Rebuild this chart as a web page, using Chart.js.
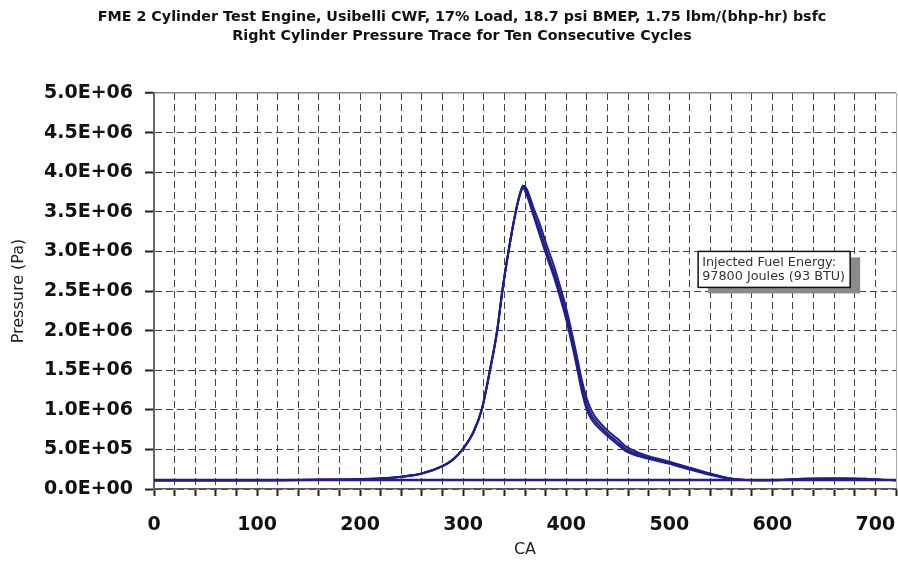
<!DOCTYPE html>
<html>
<head>
<meta charset="utf-8">
<script src="https://cdn.jsdelivr.net/npm/chart.js@4.4.1/dist/chart.umd.min.js"></script>
<style>
  html, body { margin: 0; padding: 0; background: #fff; }
</style>
</head>
<body>
<canvas id="pressureChart" width="898" height="566"></canvas>
<script>
// values
const chartTitle = [
    'FME 2 Cylinder Test Engine, Usibelli CWF, 17% Load, 18.7 psi BMEP, 1.75 lbm/(bhp-hr) bsfc',
    'Right Cylinder Pressure Trace for Ten Consecutive Cycles'
];
const noteLines = ['Injected Fuel Energy:', '97800 Joules (93 BTU)'];
const noteCA = 528;      // where the note box sits (data units)
const notePa = 3.0e6;

const caTickLabels = [0, 100, 200, 300, 400, 500, 600, 700];
const pressureTickLabels = ['0.0E+00', '5.0E+05', '1.0E+06', '1.5E+06', '2.0E+06', '2.5E+06',
    '3.0E+06', '3.5E+06', '4.0E+06', '4.5E+06', '5.0E+06'];

// crank angle (deg)
const crankAngle = [0, 40, 80, 120, 160, 200, 220, 240, 260, 280, 290, 300, 310, 318, 326, 333,
    338, 344, 351, 356, 358, 362, 368, 375, 381, 388, 394, 400, 410, 415, 420, 425, 430, 440, 450,
    457, 470, 480, 500, 520, 540, 556, 570, 590, 610, 630, 650, 670, 690, 705, 720];

// pressure (Pa), middle / upper / lower edge of the ten-cycle band
const pressureMid = [1.10e5, 1.10e5, 1.10e5, 1.11e5, 1.16e5, 1.24e5, 1.33e5, 1.55e5, 1.95e5, 2.9e5,
    3.7e5, 5.1e5, 7.2e5, 1.0e6, 1.5e6, 2.0e6, 2.5e6, 3.0e6, 3.5e6, 3.76e6, 3.82e6, 3.74e6, 3.5e6,
    3.24e6, 3.0e6, 2.74e6, 2.48e6, 2.2e6, 1.62e6, 1.3e6, 1.06e6, 9.2e5, 8.3e5, 7.0e5, 5.9e5,
    5.1e5, 4.35e5, 3.95e5, 3.3e5, 2.55e5, 1.85e5, 1.38e5, 1.17e5, 1.12e5, 1.14e5, 1.28e5, 1.3e5,
    1.3e5, 1.27e5, 1.17e5, 1.12e5];
const pressureHigh = [1.10e5, 1.10e5, 1.10e5, 1.11e5, 1.16e5, 1.24e5, 1.33e5, 1.55e5, 1.95e5, 2.9e5,
    3.7e5, 5.1e5, 7.2e5, 1.0e6, 1.5e6, 2.0e6, 2.5e6, 3.0e6, 3.5e6, 3.77e6, 3.83e6, 3.78e6, 3.56e6,
    3.32e6, 3.08e6, 2.82e6, 2.56e6, 2.28e6, 1.70e6, 1.38e6, 1.14e6, 9.8e5, 8.8e5, 7.4e5, 6.3e5,
    5.45e5, 4.6e5, 4.15e5, 3.45e5, 2.7e5, 1.95e5, 1.42e5, 1.18e5, 1.12e5, 1.15e5, 1.30e5, 1.32e5,
    1.32e5, 1.29e5, 1.18e5, 1.12e5];
const pressureLow = [1.10e5, 1.10e5, 1.10e5, 1.11e5, 1.16e5, 1.24e5, 1.33e5, 1.55e5, 1.95e5, 2.9e5,
    3.7e5, 5.1e5, 7.2e5, 1.0e6, 1.5e6, 2.0e6, 2.5e6, 3.0e6, 3.5e6, 3.75e6, 3.80e6, 3.70e6, 3.46e6,
    3.18e6, 2.94e6, 2.68e6, 2.42e6, 2.14e6, 1.56e6, 1.24e6, 1.0e6, 8.7e5, 7.9e5, 6.7e5, 5.6e5,
    4.85e5, 4.15e5, 3.8e5, 3.18e5, 2.45e5, 1.78e5, 1.34e5, 1.16e5, 1.12e5, 1.13e5, 1.26e5, 1.28e5,
    1.28e5, 1.25e5, 1.16e5, 1.12e5];

const baselineAngle = [0, 720];
const baselinePressure = [1.13e5, 1.13e5];

const traceColor = '#1e1e8c';

function toPoints(xs, ys) {
    return xs.map((a, i) => ({ x: a, y: ys[i] }));
}

function traceSet(data, width) {
    return {
        data: data,
        borderColor: traceColor,
        borderWidth: width,
        pointRadius: 0,
        fill: false,
        cubicInterpolationMode: 'monotone'
    };
}

// title and the fuel energy note
const extrasPlugin = {
    id: 'extras',
    afterDraw(chart) {
        const { ctx, scales: { x, y } } = chart;
        ctx.save();
        ctx.fillStyle = '#111';
        ctx.textAlign = 'center';
        ctx.textBaseline = 'middle';
        ctx.font = 'bold 14.3px "DejaVu Sans", sans-serif';
        ctx.fillText(chartTitle[0], 462, 17);
        ctx.fillText(chartTitle[1], 462, 36);

        const left = x.getPixelForValue(noteCA);
        const top = y.getPixelForValue(notePa);
        const w = 152, h = 36;
        ctx.fillStyle = '#8a8a8a';
        ctx.fillRect(left + 10, top + 6, w, h);
        ctx.fillStyle = '#fff';
        ctx.fillRect(left, top, w, h);
        ctx.strokeStyle = '#111';
        ctx.lineWidth = 1.5;
        ctx.strokeRect(left, top, w, h);
        ctx.fillStyle = '#333';
        ctx.textAlign = 'left';
        ctx.font = '12.8px "DejaVu Sans", sans-serif';
        ctx.fillText(noteLines[0], left + 4, top + 11);
        ctx.fillText(noteLines[1], left + 4, top + 25);
        ctx.restore();
    }
};

// the top edge and right edge of the plot are solid, the rest of the grid dashed
const isTopEdge = c => c.tick && c.tick.value === 5e6;
const isRightEdge = c => c.tick && c.tick.value === 720;

const ctx = document.getElementById('pressureChart').getContext('2d');

new Chart(ctx, {
    type: 'line',
    data: {
        datasets: [
            traceSet(toPoints(baselineAngle, baselinePressure), 2.5),
            traceSet(toPoints(crankAngle, pressureLow), 2),
            traceSet(toPoints(crankAngle, pressureHigh), 2),
            traceSet(toPoints(crankAngle, pressureMid), 2.2)
        ]
    },
    options: {
        responsive: false,
        animation: false,
        layout: { padding: { left: 0, right: 2, top: 93, bottom: 0 } },
        plugins: {
            legend: { display: false },
            tooltip: { enabled: false },
            title: { display: false }
        },
        scales: {
            x: {
                type: 'linear',
                min: 0,
                max: 720,
                afterFit: scale => {
                    scale.height = 77;
                    scale.paddingRight = 0;
                },
                ticks: {
                    stepSize: 20,
                    autoSkip: false,
                    maxRotation: 0,
                    padding: 18,
                    color: '#111',
                    font: { family: 'DejaVu Sans', size: 19, weight: 'bold' },
                    callback: v => caTickLabels.includes(v) ? String(v) : ''
                },
                grid: {
                    color: c => isRightEdge(c) ? '#aaa' : '#444',
                    lineWidth: 1,
                    tickLength: 7,
                    tickColor: '#222',
                    tickWidth: 2,
                    tickBorderDash: []
                },
                border: {
                    color: '#555',
                    width: 1.5,
                    dash: c => isRightEdge(c) ? [] : [7, 4]
                },
                title: {
                    display: true,
                    text: 'CA',
                    color: '#222',
                    font: { family: 'DejaVu Sans', size: 16 },
                    padding: { top: 0, bottom: 7 }
                }
            },
            y: {
                min: 0,
                max: 5e6,
                afterFit: scale => { scale.width = 154; },
                ticks: {
                    stepSize: 5e5,
                    padding: 12,
                    color: '#111',
                    font: { family: 'DejaVu Sans', size: 19, weight: 'bold' },
                    callback: (v, i) => pressureTickLabels[i]
                },
                grid: {
                    color: c => isTopEdge(c) ? '#888' : '#444',
                    lineWidth: c => isTopEdge(c) ? 1.5 : 1,
                    tickLength: 9,
                    tickColor: '#222',
                    tickWidth: 2,
                    tickBorderDash: []
                },
                border: {
                    color: '#666',
                    width: 2,
                    dash: c => isTopEdge(c) ? [] : [7, 4]
                },
                title: {
                    display: true,
                    text: 'Pressure (Pa)',
                    color: '#222',
                    font: { family: 'DejaVu Sans', size: 16 },
                    padding: { top: 9, bottom: 0 }
                }
            }
        }
    },
    plugins: [extrasPlugin]
});
</script>
</body>
</html>
